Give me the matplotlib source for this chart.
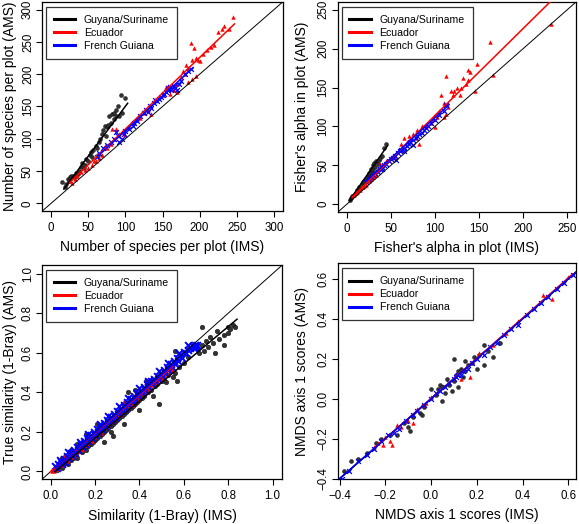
import numpy as np
import matplotlib
matplotlib.use("Agg")
import matplotlib.pyplot as plt
from matplotlib.lines import Line2D

plt.rcParams['font.family'] = ['Liberation Sans', 'DejaVu Sans']
plt.rcParams['axes.unicode_minus'] = True

# ---- panel (a): number of species per plot
gs_sp_x = [15, 18, 20, 22, 24, 25, 27, 30, 32, 34, 36, 38, 40, 42, 44, 45, 47, 50, 52, 54, 55, 57, 60, 62,
           63, 64, 66, 68, 70, 72, 74, 75, 77, 78, 80, 82, 84, 85, 87, 88, 90, 92, 94, 96, 100]
gs_sp_y = [33, 25, 30, 38, 35, 40, 42, 43, 40, 47, 45, 50, 56, 62, 55, 60, 68, 66, 75, 80, 72, 82, 88, 85,
           75, 95, 100, 108, 113, 120, 105, 118, 122, 135, 125, 138, 130, 140, 145, 136, 150, 135, 168, 140, 163]
ec_sp_x = [25, 28, 32, 35, 40, 45, 50, 55, 58, 60, 65, 68, 72, 75, 80, 82, 85, 88, 92, 95, 100, 105, 110, 115,
           120, 125, 130, 135, 140, 145, 150, 155, 158, 160, 165, 170, 175, 178, 180, 182, 185, 188, 190, 192,
           195, 198, 200, 205, 210, 215, 220, 225, 230, 233, 240, 245, 185, 190, 195, 170]
ec_sp_y = [35, 32, 38, 42, 48, 52, 55, 60, 66, 65, 70, 75, 88, 85, 92, 115, 100, 115, 108, 110, 106, 118, 125, 130,
           132, 140, 145, 138, 160, 165, 168, 180, 182, 170, 176, 185, 195, 205, 200, 215, 210, 248, 222, 240,
           225, 222, 220, 232, 238, 242, 245, 265, 270, 275, 270, 288, 188, 192, 198, 172]
fg_sp_x = [62, 65, 70, 75, 80, 85, 88, 90, 92, 95, 98, 100, 105, 110, 112, 115, 120, 125, 128, 130, 133, 135,
           138, 140, 142, 145, 148, 150, 152, 155, 157, 158, 160, 162, 165, 167, 170, 172, 175, 180, 185, 188]
fg_sp_y = [72, 78, 85, 90, 95, 100, 110, 105, 95, 100, 108, 112, 115, 120, 125, 128, 135, 140, 145, 142, 150, 148,
           155, 160, 158, 162, 165, 168, 170, 172, 175, 178, 180, 176, 182, 178, 175, 185, 190, 200, 205, 208]
sp_fit = {'gs': ([17, 103], [22, 155]), 'ec': ([25, 247], [32, 278]), 'fg': ([63, 191], [73, 210])}

# ---- panel (b): Fisher's alpha
gs_fa_x = [4, 5, 6, 8, 10, 12, 14, 15, 17, 18, 20, 22, 24, 25, 27, 28, 30, 31, 32, 33, 35, 36, 38, 40, 42, 44, 26, 30]
gs_fa_y = [6, 8, 10, 12, 15, 18, 22, 20, 26, 28, 30, 33, 36, 40, 42, 45, 50, 53, 48, 55, 52, 57, 60, 62, 72, 78, 35, 44]
ec_fa_x = [6, 8, 10, 12, 15, 18, 20, 22, 25, 28, 30, 33, 35, 38, 40, 45, 50, 55, 60, 62, 65, 68, 70, 72, 75, 78,
           80, 82, 85, 90, 95, 98, 100, 102, 105, 107, 110, 112, 113, 115, 118, 120, 122, 125, 128, 130, 132,
           135, 137, 138, 140, 145, 148, 163, 166, 232, 100, 110]
ec_fa_y = [10, 12, 14, 16, 18, 22, 23, 25, 30, 33, 35, 38, 45, 52, 50, 55, 60, 62, 70, 78, 85, 80, 88, 84, 90, 85,
           95, 78, 100, 100, 105, 110, 115, 112, 120, 140, 130, 116, 165, 125, 145, 140, 145, 150, 140, 150, 162,
           155, 172, 160, 170, 146, 180, 208, 166, 232, 99, 112]
fg_fa_x = [22, 25, 28, 30, 32, 35, 38, 40, 42, 45, 48, 50, 52, 55, 58, 60, 62, 65, 68, 70, 72, 75, 78, 80, 82, 85,
           88, 90, 92, 95, 100, 105, 110, 113, 56, 65, 75, 40]
fg_fa_y = [28, 32, 35, 38, 40, 42, 45, 48, 50, 52, 55, 58, 60, 62, 66, 68, 70, 72, 75, 78, 80, 82, 85, 88, 90, 92,
           95, 98, 100, 105, 108, 115, 120, 128, 57, 68, 76, 45]
fa_fit = {'gs': ([3, 46], [5, 75]), 'ec': ([6, 235], [9, 265]), 'fg': ([22, 116], [30, 128])}

# ---- panel (c): similarity (1-Bray)
gs_sim_x = [0.03, 0.04, 0.05, 0.06, 0.07, 0.08, 0.08, 0.09, 0.10, 0.10, 0.11, 0.12, 0.12, 0.13, 0.14, 0.14, 0.15,
            0.16, 0.16, 0.17, 0.18, 0.18, 0.19, 0.20, 0.20, 0.21, 0.22, 0.22, 0.23, 0.24, 0.24, 0.25, 0.26, 0.26,
            0.27, 0.28, 0.28, 0.29, 0.30, 0.30, 0.31, 0.32, 0.33, 0.33, 0.34, 0.35, 0.36, 0.36, 0.37, 0.38, 0.38,
            0.39, 0.40, 0.40, 0.41, 0.42, 0.43, 0.44, 0.45, 0.46, 0.47, 0.48, 0.49, 0.50, 0.51, 0.52, 0.53, 0.54,
            0.55, 0.56, 0.57, 0.58, 0.60, 0.62, 0.66, 0.67, 0.68, 0.69, 0.70, 0.71, 0.72, 0.73, 0.74, 0.75, 0.76,
            0.78, 0.78, 0.80, 0.80, 0.81, 0.82, 0.83, 0.68, 0.43, 0.16, 0.12, 0.56, 0.09, 0.21, 0.27, 0.35, 0.05]
gs_sim_y = [0.01, 0.03, 0.02, 0.04, 0.05, 0.04, 0.07, 0.06, 0.07, 0.09, 0.08, 0.10, 0.07, 0.11, 0.10, 0.13, 0.12,
            0.11, 0.15, 0.13, 0.14, 0.17, 0.15, 0.16, 0.19, 0.17, 0.18, 0.22, 0.19, 0.20, 0.15, 0.21, 0.22, 0.25,
            0.23, 0.24, 0.18, 0.25, 0.26, 0.30, 0.27, 0.28, 0.29, 0.24, 0.30, 0.31, 0.32, 0.36, 0.33, 0.34, 0.41,
            0.35, 0.36, 0.31, 0.37, 0.38, 0.40, 0.40, 0.41, 0.38, 0.43, 0.44, 0.34, 0.46, 0.47, 0.45, 0.49, 0.52,
            0.48, 0.50, 0.46, 0.53, 0.55, 0.58, 0.62, 0.60, 0.64, 0.61, 0.66, 0.63, 0.68, 0.65, 0.60, 0.71, 0.67,
            0.69, 0.64, 0.70, 0.73, 0.72, 0.74, 0.73, 0.73, 0.46, 0.19, 0.14, 0.61, 0.11, 0.24, 0.20, 0.40, 0.07]
ec_sim_x = [0.01, 0.02, 0.03, 0.04, 0.05, 0.06, 0.07, 0.08, 0.09, 0.10, 0.11, 0.12, 0.13, 0.14, 0.15, 0.16, 0.17,
            0.18, 0.19, 0.20, 0.21, 0.22, 0.23, 0.24, 0.25, 0.26, 0.27, 0.28, 0.29, 0.30, 0.31, 0.32, 0.33, 0.34,
            0.35, 0.36, 0.37, 0.38, 0.39, 0.40, 0.42, 0.44, 0.46, 0.48, 0.50, 0.52, 0.54, 0.06, 0.45, 0.33]
ec_sim_y = [0.01, 0.02, 0.02, 0.04, 0.04, 0.06, 0.06, 0.07, 0.08, 0.09, 0.10, 0.11, 0.12, 0.12, 0.14, 0.15, 0.16,
            0.16, 0.18, 0.19, 0.20, 0.20, 0.22, 0.23, 0.23, 0.25, 0.26, 0.26, 0.28, 0.29, 0.29, 0.31, 0.32, 0.32,
            0.34, 0.34, 0.35, 0.37, 0.37, 0.39, 0.40, 0.42, 0.44, 0.46, 0.48, 0.50, 0.52, 0.08, 0.47, 0.35]
fg_sim_x = [0.02, 0.03, 0.035, 0.045, 0.05, 0.06, 0.065, 0.075, 0.08, 0.09, 0.095, 0.105, 0.11, 0.12, 0.125, 0.135,
            0.14, 0.15, 0.155, 0.165, 0.17, 0.18, 0.185, 0.195, 0.20, 0.21, 0.215, 0.225, 0.23, 0.24, 0.245, 0.255,
            0.26, 0.27, 0.275, 0.285, 0.29, 0.30, 0.305, 0.315, 0.32, 0.33, 0.335, 0.345, 0.35, 0.36, 0.365, 0.375,
            0.38, 0.39, 0.395, 0.405, 0.41, 0.42, 0.425, 0.435, 0.44, 0.45, 0.455, 0.465, 0.47, 0.48, 0.485, 0.495,
            0.50, 0.51, 0.515, 0.525, 0.53, 0.54, 0.545, 0.555, 0.56, 0.57, 0.575, 0.585, 0.59, 0.60, 0.61, 0.62,
            0.63, 0.64, 0.65, 0.66, 0.655, 0.645,
            0.04, 0.08, 0.13, 0.17, 0.22, 0.26, 0.31, 0.35, 0.40, 0.44, 0.49, 0.53, 0.58, 0.62]
fg_sim_y = [0.03, 0.02, 0.04, 0.05, 0.04, 0.065, 0.05, 0.08, 0.07, 0.095, 0.08, 0.11, 0.095, 0.125, 0.11, 0.14,
            0.125, 0.155, 0.14, 0.17, 0.155, 0.185, 0.17, 0.20, 0.185, 0.215, 0.20, 0.23, 0.215, 0.245, 0.23, 0.26,
            0.245, 0.275, 0.26, 0.29, 0.275, 0.305, 0.29, 0.32, 0.305, 0.335, 0.32, 0.35, 0.335, 0.365, 0.35, 0.38,
            0.365, 0.395, 0.38, 0.41, 0.395, 0.425, 0.41, 0.44, 0.425, 0.455, 0.44, 0.47, 0.455, 0.485, 0.47, 0.50,
            0.485, 0.515, 0.50, 0.53, 0.515, 0.545, 0.53, 0.56, 0.545, 0.575, 0.56, 0.59, 0.575, 0.605, 0.60, 0.615,
            0.625, 0.635, 0.64, 0.64, 0.63, 0.625,
            0.06, 0.10, 0.15, 0.19, 0.24, 0.28, 0.33, 0.37, 0.42, 0.46, 0.51, 0.55, 0.60, 0.64]
sim_fit = {'gs': ([0.02, 0.84], [0.0, 0.77]), 'ec': ([0.0, 0.55], [0.0, 0.53]), 'fg': ([0.02, 0.66], [0.02, 0.645])}

# ---- panel (d): NMDS axis 1 scores
gs_nm_x = [-0.38, -0.35, -0.32, -0.28, -0.24, -0.22, -0.15, -0.12, -0.10, -0.09, -0.08, -0.05, -0.04, -0.03, 0.03,
           0.04, 0.05, 0.05, 0.06, 0.07, 0.08, 0.09, 0.10, 0.10, 0.11, 0.12, 0.12, 0.13, 0.14, 0.15, 0.15, 0.16,
           0.18, 0.19, 0.20, 0.21, 0.23, 0.23, 0.25, 0.27, 0.30, 0.00, 0.02, -0.18]
gs_nm_y = [-0.36, -0.31, -0.30, -0.27, -0.22, -0.20, -0.18, -0.12, -0.14, -0.16, -0.09, -0.07, -0.08, -0.04, 0.05,
           0.07, 0.06, -0.01, 0.03, 0.10, 0.07, 0.04, 0.09, 0.20, 0.12, 0.14, 0.06, 0.15, 0.11, 0.19, 0.14, 0.17,
           0.18, 0.21, 0.15, 0.22, 0.27, 0.17, 0.24, 0.21, 0.28, 0.05, 0.02, -0.18]
ec_nm_x = [-0.23, -0.21, -0.18, -0.17, -0.15, -0.13, -0.10, -0.08, -0.06, -0.04, -0.02, 0.00, 0.13, 0.17, 0.21,
           0.27, 0.33, 0.38, 0.49, 0.53, 0.60, -0.25, -0.20]
ec_nm_y = [-0.22, -0.23, -0.21, -0.23, -0.13, -0.14, -0.11, -0.12, -0.05, -0.03, -0.02, 0.01, 0.10, 0.11, 0.23,
           0.27, 0.33, 0.39, 0.52, 0.50, 0.61, -0.24, -0.19]
fg_nm_x = [-0.39, -0.36, -0.32, -0.28, -0.25, -0.22, -0.19, -0.16, -0.14, -0.11, -0.08, -0.06, -0.03, 0.00, 0.02,
           0.04, 0.06, 0.08, 0.10, 0.11, 0.12, 0.13, 0.14, 0.16, 0.18, 0.20, 0.23, 0.26, 0.29, 0.32, 0.35, 0.38,
           0.42, 0.45, 0.48, 0.51, 0.55, 0.58, 0.62]
fg_nm_y = [-0.40, -0.36, -0.31, -0.28, -0.25, -0.21, -0.18, -0.17, -0.15, -0.11, -0.08, -0.06, -0.03, 0.00, 0.03,
           0.04, 0.06, 0.08, 0.10, 0.11, 0.12, 0.12, 0.14, 0.15, 0.18, 0.20, 0.22, 0.26, 0.28, 0.32, 0.35, 0.37,
           0.42, 0.45, 0.48, 0.51, 0.55, 0.58, 0.62]
nm_fit = {'gs': ([-0.41, 0.68], [-0.41, 0.68]), 'ec': ([-0.25, 0.62], [-0.25, 0.625]),
          'fg': ([-0.41, 0.68], [-0.41, 0.68])}

legend_labels = ["Guyana/Suriname", "Ecuador", "French Guiana"]

tick_fs = 8.3
lab_fs = 10
W, H = 579, 524

fig = plt.figure(figsize=(W / 100, H / 100), dpi=100)


def px_axes(x0, y0, x1, y1):
    return fig.add_axes([x0 / W, 1 - y1 / H, (x1 - x0) / W, (y1 - y0) / H])


def panel(ax, data, fit, lims, ticks, fmt, xlabel, ylabel, xl_y, yl_x, big=False):
    (gx, gy), (ex, ey), (fx, fy) = data
    s = 20 if big else 8
    ax.scatter(gx, gy, s=11 if big else s, marker='o', facecolor='#333333', edgecolor='black',
               linewidths=0.3, zorder=2)
    ax.scatter(ex, ey, s=s + 2, marker='^', color='red', linewidths=0, zorder=3)
    ax.scatter(fx, fy, s=s + 4, marker='x', color='blue', linewidths=1.4 if big else 0.9, zorder=4)
    ax.plot(lims, lims, color='black', lw=0.7, zorder=5)
    ax.plot(*fit['gs'], color='black', lw=1.1, zorder=6)
    ax.plot(*fit['ec'], color='red', lw=1.1, zorder=6)
    ax.plot(*fit['fg'], color='blue', lw=1.1, zorder=7)
    ax.set_xlim(*lims)
    ax.set_ylim(*lims)
    ax.set_xticks(ticks)
    ax.set_yticks(ticks)
    ax.set_xticklabels([fmt(t) for t in ticks], fontsize=tick_fs)
    ax.set_yticklabels([fmt(t) for t in ticks], fontsize=tick_fs, rotation=90, va='center')
    ax.tick_params(direction='out', length=4.5, width=0.8, color='black')
    ax.tick_params(axis='x', pad=3.5)
    ax.tick_params(axis='y', pad=1.5)
    for sp in ax.spines.values():
        sp.set_linewidth(0.9)
    ax.set_xlabel(xlabel, fontsize=lab_fs)
    ax.set_ylabel(ylabel, fontsize=lab_fs)
    ax.xaxis.set_label_coords(0.5, xl_y)
    ax.yaxis.set_label_coords(yl_x, 0.5)
    ax.xaxis.label.set_va('center')
    ax.yaxis.label.set_va('center')
    handles = [Line2D([], [], color=c, lw=2.2) for c in ['black', 'red', 'blue']]
    leg = ax.legend(handles, legend_labels, loc='upper left', bbox_to_anchor=(0.015, 0.976),
                    fontsize=7.6, frameon=True, fancybox=False, handlelength=2.0, handletextpad=0.85,
                    labelspacing=0.28, borderpad=0.75, borderaxespad=0)
    leg.get_frame().set_edgecolor('black')
    leg.get_frame().set_linewidth(0.9)
    leg.set_zorder(10)


def fmt_int(t):
    return f"{int(round(t))}"


def fmt_1(t):
    return f"{t:.1f}".replace('-', '\u2212')


ax1 = px_axes(42.3, 2, 282.7, 211)
panel(ax1, [(gs_sp_x, gs_sp_y), (ec_sp_x, ec_sp_y), (fg_sp_x, fg_sp_y)], sp_fit, (-12, 312),
      [0, 50, 100, 150, 200, 250, 300], fmt_int,
      "Number of species per plot (IMS)", "Number of species per plot (AMS)", -0.171, -0.134)

ax2 = px_axes(338, 2, 576, 212)
panel(ax2, [(gs_fa_x, gs_fa_y), (ec_fa_x, ec_fa_y), (fg_fa_x, fg_fa_y)], fa_fit, (-10, 260),
      [0, 50, 100, 150, 200, 250], fmt_int,
      "Fisher's alpha in plot (IMS)", "Fisher's alpha in plot (AMS)", -0.171, -0.152)

ax3 = px_axes(42.3, 265, 282.3, 479)
panel(ax3, [(gs_sim_x, gs_sim_y), (ec_sim_x, ec_sim_y), (fg_sim_x, fg_sim_y)], sim_fit, (-0.038, 1.044),
      [0.0, 0.2, 0.4, 0.6, 0.8, 1.0], fmt_1,
      "Similarity (1-Bray) (IMS)", "True similarity (1-Bray) (AMS)", -0.173, -0.134, big=True)

ax4 = px_axes(338, 263.3, 576, 479.3)
panel(ax4, [(gs_nm_x, gs_nm_y), (ec_nm_x, ec_nm_y), (fg_nm_x, fg_nm_y)], nm_fit, (-0.407, 0.634),
      [-0.4, -0.2, 0.0, 0.2, 0.4, 0.6], fmt_1,
      "NMDS axis 1 scores (IMS)", "NMDS axis 1 scores (AMS)", -0.167, -0.152)
ax4.set_ylim(-0.403, 0.678)

fig.savefig("out.png", dpi=100)
